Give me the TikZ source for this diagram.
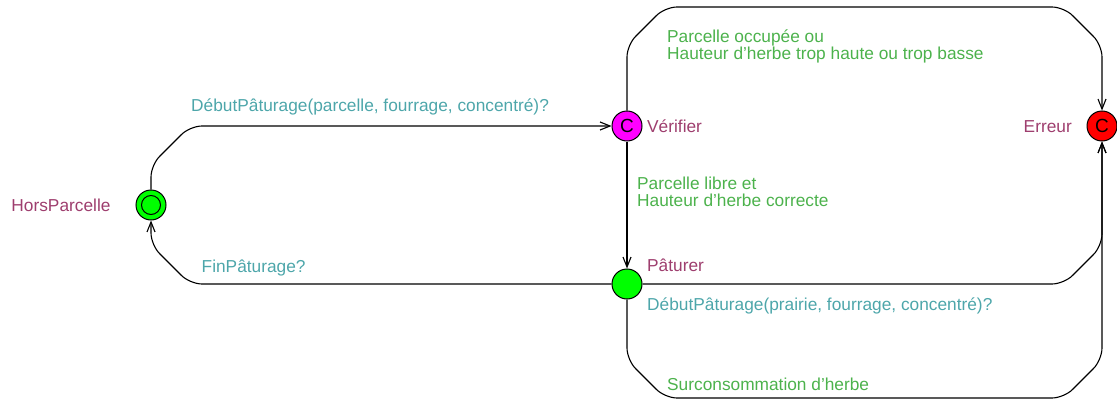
\documentclass[tikz,border=0pt]{standalone}
\usepackage{fontspec}
\setmainfont{Liberation Sans}
\usetikzlibrary{arrows.meta}
\definecolor{locname}{RGB}{158,62,110}
\definecolor{synccol}{RGB}{77,166,170}
\definecolor{guardcol}{RGB}{76,178,76}
\definecolor{locgreen}{RGB}{0,255,0}
\definecolor{locmag}{RGB}{255,0,255}
\definecolor{locred}{RGB}{255,0,0}
\begin{document}
\begin{tikzpicture}[x=1pt,y=-1pt,
  every node/.style={font=\fontsize{17.3}{17}\selectfont},
  loc/.style={circle,draw=black,line width=1pt,minimum size=30pt,inner sep=0pt,font=\fontsize{19}{19}\selectfont},
  edge/.style={line width=1.1pt,rounded corners=12pt,-{Straight Barb[length=10pt,width=8pt,line width=1.1pt]}},
  lname/.style={text=locname,inner sep=0pt},
  sync/.style={text=synccol,inner sep=0pt,anchor=base west},
  guard/.style={text=guardcol,inner sep=0pt,anchor=base west}]
\useasboundingbox (0,0) rectangle (1117,404);

% locations
\node[loc,fill=locgreen] (hp) at (151,205) {};
\node[circle,draw=black,line width=1pt,minimum size=19pt,inner sep=0pt] (hpin) at (hp.center) {};
\node[loc,fill=locmag] (ver) at (627,126) {C};
\node[loc,fill=locgreen] (pat) at (627,284) {};
\node[loc,fill=locred] (err) at (1102,126) {C};

% location names
\node[lname,anchor=base east] (nhp) at (110.7,211) {HorsParcelle};
\node[lname,anchor=base west] (nver) at (647,132) {Vérifier};
\node[lname,anchor=base east] (nerr) at (1072,132) {Erreur};
\node[lname,anchor=base west] (npat) at (647,271) {Pâturer};

% edges
\draw[edge] (hp.north) -- (151,165) -- (190,126) -- (ver.west);
\draw[edge] (pat.west) -- (190,284) -- (151,245) -- (hp.south);
\draw[edge,rounded corners=0pt] (ver.south) -- (pat.north);
\draw[edge] (ver.north) -- (627,45) -- (665,7) -- (1064,7) -- (1102,45) -- (err.north);
\draw[edge] (pat.east) -- (1064,284) -- (1102,246) -- (err.south);
\draw[edge] (pat.south) -- (627,360) -- (665,398) -- (1064,398) -- (1102,360) -- (err.south);

% labels
\node[sync] (s1) at (191,111) {DébutPâturage(parcelle, fourrage, concentré)?};
\node[sync] (s2) at (201.5,272) {FinPâturage?};
\node[sync] (s3) at (647,310) {DébutPâturage(prairie, fourrage, concentré)?};
\node[guard] (g1a) at (667,43) {Parcelle occupée ou};
\node[guard] (g1b) at (667,60) {Hauteur d’herbe trop haute ou trop basse};
\node[guard] (g2a) at (637,189) {Parcelle libre et};
\node[guard] (g2b) at (637,206.5) {Hauteur d’herbe correcte};
\node[guard] (g3) at (667,390) {Surconsommation d'herbe};
\end{tikzpicture}
\end{document}
